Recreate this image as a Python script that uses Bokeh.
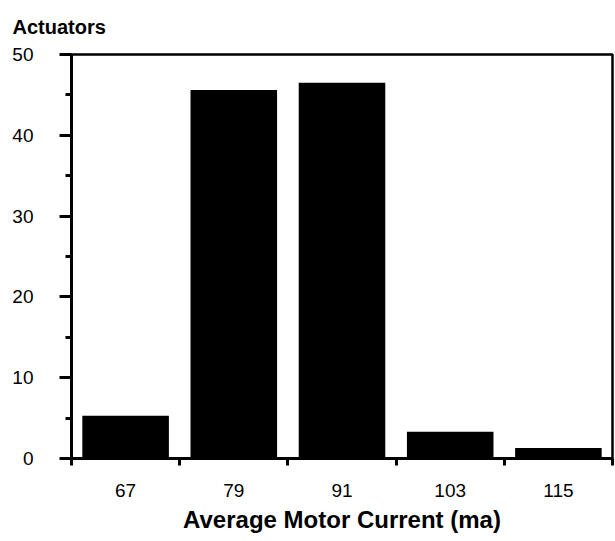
from bokeh.plotting import figure
from bokeh.models import Range1d, FixedTicker, ColumnDataSource
from bokeh.embed import file_html
from bokeh.resources import INLINE

# Data
currents = [67, 79, 91, 103, 115]
actuators = [5.3, 45.6, 46.5, 3.3, 1.3]
boundaries = [61, 73, 85, 97, 109, 121]
y_major = [0, 10, 20, 30, 40, 50]
y_minor = [5, 15, 25, 35, 45]

FONT = "Liberation Sans"

src = ColumnDataSource(dict(x=currents, top=actuators))

p = figure(width=614, height=535, output_backend="svg", toolbar_location=None,
           x_range=Range1d(61, 121), y_range=Range1d(0, 50),
           min_border_left=71, min_border_right=2, min_border_top=53, min_border_bottom=75,
           title="Actuators")

p.vbar(x="x", top="top", bottom=0, width=9.6, source=src,
       fill_color="black", line_color=None)

p.grid.visible = False
p.outline_line_color = "black"
p.outline_line_width = 2.5
p.background_fill_color = "white"
p.border_fill_color = "white"

# Title
p.title.text_font = FONT
p.title.text_font_size = "20px"
p.title.text_font_style = "bold"
p.title.text_color = "black"
p.title.align = "left"
p.title.vertical_align = "top"
p.title.offset = -59
p.title.standoff = 30

# Y axis
ya = p.yaxis[0]
ya.ticker = FixedTicker(ticks=y_major, minor_ticks=y_minor)
ya.axis_line_width = 3
ya.axis_line_color = "black"
ya.major_tick_out = 12
ya.major_tick_in = 0
ya.major_tick_line_width = 3
ya.minor_tick_out = 6
ya.minor_tick_in = 0
ya.minor_tick_line_width = 3
ya.major_label_standoff = 26
ya.major_label_text_font = FONT
ya.major_label_text_font_size = "19px"
ya.major_label_text_color = "black"

# X axis
xa = p.xaxis[0]
xa.ticker = FixedTicker(ticks=currents, minor_ticks=boundaries)
xa.axis_line_width = 3
xa.axis_line_color = "black"
xa.major_tick_out = 0
xa.major_tick_in = 0
xa.minor_tick_out = 7
xa.minor_tick_in = 0
xa.minor_tick_line_width = 3
xa.major_label_standoff = 18
xa.major_label_text_font = FONT
xa.major_label_text_font_size = "19px"
xa.major_label_text_color = "black"
xa.axis_label = "Average Motor Current (ma)"
xa.axis_label_text_font = FONT
xa.axis_label_text_font_size = "24px"
xa.axis_label_text_font_style = "bold"
xa.axis_label_text_color = "black"
xa.axis_label_standoff = 6

open("out.html", "w").write(file_html(p, INLINE))
